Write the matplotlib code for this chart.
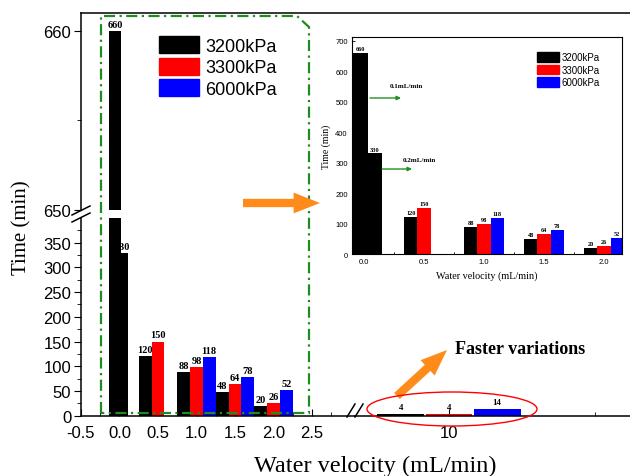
import matplotlib.pyplot as plt
import numpy as np
from matplotlib.patches import Ellipse, Polygon, FancyArrowPatch, Patch
from matplotlib.lines import Line2D
from matplotlib.ticker import FixedLocator

plt.rcParams.update({'font.family': 'Liberation Sans', 'axes.unicode_minus': False})

# data
pressures = ['3200kPa', '3300kPa', '6000kPa']
bar_colors = ['black', 'red', 'blue']
velocities = [0.5, 1.0, 1.5, 2.0]
time_3200 = [120, 88, 48, 20]
time_3300 = [150, 98, 64, 26]
time_6000 = [np.nan, 118, 78, 52]
slow_labels = ['0.1mL/min', '0.2mL/min']
slow_time_3200 = [660, 330]
fast_velocity = 10
fast_times = [4, 4, 14]

W, H = 630, 477
SERIF = 'Liberation Serif'


def fx(x):
    return x / W


def fy(y):
    return 1 - y / H


def add_axes_px(x0, y0, x1, y1):
    return fig.add_axes([x0 / W, 1 - y1 / H, (x1 - x0) / W, (y1 - y0) / H])


def label_bar(ax, x, h, size, dy=1.5):
    ax.annotate(str(int(h)), (x, h), xytext=(0, dy), textcoords='offset points',
                ha='center', va='bottom', fontsize=size, fontweight='bold',
                family=SERIF, zorder=1.5)


def draw_groups(ax, w, off, size):
    series = [time_3200, time_3300, time_6000]
    for k, vals in enumerate(series):
        for v, h in zip(velocities, vals):
            if np.isnan(h):
                continue
            x = v + (k - 1) * off
            ax.bar(x, h, width=w, color=bar_colors[k], linewidth=0, zorder=2)
            label_bar(ax, x, h, size)


fig = plt.figure(figsize=(6.3, 4.77), dpi=100)

# ---- main chart: upper y segment
ax_top = add_axes_px(81, 14, 640, 211)
ax_top.set_xlim(-0.5, -0.5 + (640 - 81) / 77)
ax_top.set_ylim(650, 661)
slow_x = [-0.06, 0.035]
ax_top.bar(slow_x[0], slow_time_3200[0], width=0.155, color='black', linewidth=0, zorder=2)
label_bar(ax_top, slow_x[0], slow_time_3200[0], 7.5)
ax_top.spines['bottom'].set_visible(False)
ax_top.spines['right'].set_visible(False)
ax_top.set_xticks([])
ax_top.set_yticks([650, 660])
ax_top.yaxis.set_minor_locator(FixedLocator([655]))
ax_top.tick_params(axis='y', which='major', direction='out', length=5, labelsize=12, pad=2)
ax_top.tick_params(axis='y', which='minor', direction='out', length=3)
handles = [Patch(color=c) for c in bar_colors]
ax_top.legend(handles, pressures, loc='upper left', bbox_to_anchor=(fx(159), fy(37)),
              bbox_transform=fig.transFigure, frameon=False, fontsize=13,
              handlelength=2.2, handleheight=1.1, labelspacing=0.15,
              handletextpad=0.35, borderpad=0, borderaxespad=0)

# ---- main chart: lower y segment, left x segment
ax_low = add_axes_px(81, 219, 355, 416.7)
ax_low.set_xlim(-0.5, -0.5 + (355 - 81) / 77)
ax_low.set_ylim(0, 400)
ax_low.bar(slow_x[0], slow_time_3200[0], width=0.155, color='black', linewidth=0, zorder=2.2)
ax_low.bar(slow_x[1], slow_time_3200[1], width=0.155, color='black', linewidth=0, zorder=2)
label_bar(ax_low, slow_x[1], slow_time_3200[1], 7.5)
draw_groups(ax_low, 0.165, 0.165, 7.5)
ax_low.spines['top'].set_visible(False)
ax_low.spines['right'].set_visible(False)
ax_low.set_yticks(np.arange(0, 351, 50))
ax_low.yaxis.set_minor_locator(FixedLocator(np.arange(25, 376, 50)))
ax_low.set_xticks(np.arange(-0.5, 2.51, 0.5))
ax_low.set_xticklabels(['%.1f' % t for t in np.arange(-0.5, 2.51, 0.5)])
ax_low.xaxis.set_minor_locator(FixedLocator(np.arange(-0.25, 2.8, 0.5)))
ax_low.tick_params(axis='y', which='major', direction='out', length=5, labelsize=12, pad=2)
ax_low.tick_params(axis='y', which='minor', direction='out', length=3)
ax_low.tick_params(axis='x', which='major', direction='in', length=5, labelsize=12, pad=7)
ax_low.tick_params(axis='x', which='minor', direction='in', length=3)

# ---- main chart: right x segment (10 mL/min)
ax_r = add_axes_px(355, 219, 640, 416.7)
ax_r.set_xlim(10 - 94 / 292, 10 + 191 / 292)
ax_r.set_ylim(0, 400)
for k, h in enumerate(fast_times):
    x = fast_velocity + (k - 1) * 0.165
    ax_r.bar(x, h, width=0.16, color=bar_colors[k], linewidth=0, zorder=2)
    label_bar(ax_r, x, h, 6.5, dy=2)
for s in ['top', 'right', 'left']:
    ax_r.spines[s].set_visible(False)
ax_r.set_yticks([])
ax_r.set_xticks([fast_velocity])
ax_r.set_xticklabels([str(fast_velocity)])
ax_r.xaxis.set_minor_locator(FixedLocator([10.5]))
ax_r.tick_params(axis='x', which='major', direction='in', length=5, labelsize=12, pad=7)
ax_r.tick_params(axis='x', which='minor', direction='in', length=3)

for ax in [ax_top, ax_low, ax_r]:
    for s in ax.spines.values():
        s.set_linewidth(1.1)
    ax.patch.set_alpha(0)

# axis break marks
for (x0, y0, x1, y1) in [(72, 216, 90, 207), (72, 223, 90, 214),
                         (347, 418, 355, 405), (355, 418, 363, 405)]:
    fig.add_artist(Line2D([fx(x0), fx(x1)], [fy(y0), fy(y1)], color='black', lw=1.1))

fig.text(fx(22), fy(228), 'Time (min)', rotation=90, fontsize=15, family=SERIF,
         ha='center', va='center')
fig.text(fx(375), fy(466), 'Water velocity (mL/min)', fontsize=17.5, family=SERIF,
         ha='center', va='center')

# green dash-dot frame around the low-velocity bars
frame = Polygon([(fx(101), fy(414)), (fx(101), fy(17)), (fx(297), fy(17)),
                 (fx(309), fy(28)), (fx(309), fy(414))], closed=True, fill=False,
                edgecolor='#1e8c1e', lw=1.6, linestyle=(0, (5, 2, 1, 2)),
                transform=fig.transFigure, zorder=5)
fig.add_artist(frame)

# ---- inset chart
ax_in = add_axes_px(352, 38, 622, 255)
ax_in.set_xlim(-0.1, 2.15)
ax_in.set_ylim(0, 712)
in_x = [-0.03, 0.09]
for x, h in zip(in_x, slow_time_3200):
    ax_in.bar(x, h, width=0.12, color='black', linewidth=0, zorder=2)
    label_bar(ax_in, x, h, 4.5, dy=1)
for k, vals in enumerate([time_3200, time_3300, time_6000]):
    for v, h in zip(velocities, vals):
        if np.isnan(h):
            continue
        x = v + (k - 1) * 0.11
        ax_in.bar(x, h, width=0.11, color=bar_colors[k], linewidth=0, zorder=2)
        label_bar(ax_in, x, h, 4.5, dy=1.5)
in_ticks = [0.0] + velocities
ax_in.set_yticks(np.arange(0, 701, 100))
ax_in.yaxis.set_minor_locator(FixedLocator(np.arange(50, 701, 100)))
ax_in.set_xticks(in_ticks)
ax_in.set_xticklabels(['%.1f' % t for t in in_ticks])
ax_in.xaxis.set_minor_locator(FixedLocator(np.arange(0.25, 2.1, 0.5)))
ax_in.tick_params(which='major', direction='in', length=2.5, labelsize=5.5, pad=3, width=0.6)
ax_in.tick_params(which='minor', direction='in', length=1.5, width=0.6)
for s in ax_in.spines.values():
    s.set_linewidth(0.8)
ax_in.set_xlabel('Water velocity (mL/min)', fontsize=7.3, family=SERIF, labelpad=4)
ax_in.set_ylabel('Time (min)', fontsize=7, family=SERIF, labelpad=3)
ax_in.legend(handles, pressures, loc='upper left', bbox_to_anchor=(fx(537), fy(53)),
             bbox_transform=fig.transFigure, frameon=False, fontsize=7,
             handlelength=2.3, handleheight=1.15, labelspacing=0.25,
             handletextpad=0.25, borderpad=0, borderaxespad=0)

for lbl, (tx, ty), (ax0, ax1, ay) in zip(slow_labels, [(390, 87), (403, 160)],
                                         [(370, 401, 99), (382, 412, 170)]):
    fig.text(fx(tx), fy(ty), lbl, fontsize=5, fontweight='bold', family=SERIF,
             ha='left', va='center')
    fig.add_artist(FancyArrowPatch((fx(ax0), fy(ay)), (fx(ax1), fy(ay)),
                                   transform=fig.transFigure, arrowstyle='-|>',
                                   mutation_scale=6, color='#1f8f1f', lw=1,
                                   shrinkA=0, shrinkB=0))

# ---- orange pointers and annotation
orange = '#ff8c1a'
for (x0, y0, x1, y1) in [(243, 204, 320, 204), (397, 397, 447, 351)]:
    fig.add_artist(FancyArrowPatch((fx(x0), fy(y0)), (fx(x1), fy(y1)),
                                   transform=fig.transFigure,
                                   arrowstyle='simple,head_length=1.9,head_width=1.5,tail_width=0.6',
                                   mutation_scale=10, color=orange, lw=0,
                                   shrinkA=0, shrinkB=0, zorder=6))
fig.text(fx(455), fy(350), 'Faster variations', fontsize=13, fontweight='bold',
         family=SERIF, ha='left', va='center')
fig.add_artist(Ellipse((fx(452), fy(410)), 170 / W, 34 / H, transform=fig.transFigure,
                       fill=False, edgecolor='red', lw=1, zorder=6))

fig.savefig('out.png', dpi=100)
